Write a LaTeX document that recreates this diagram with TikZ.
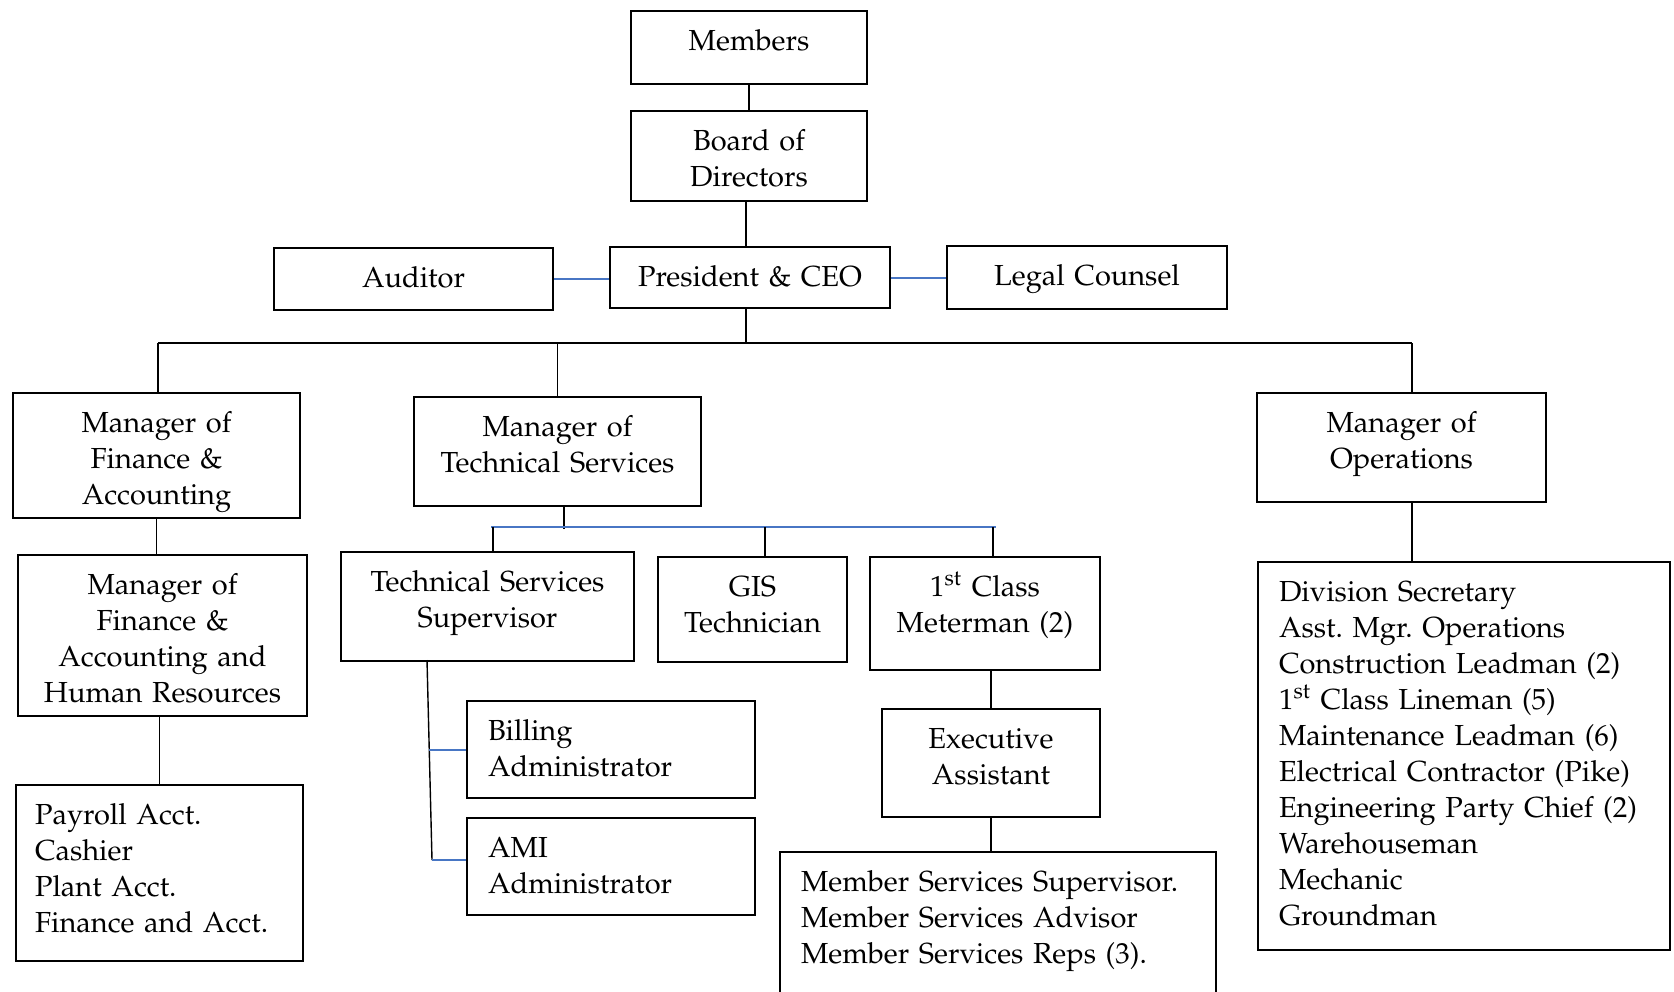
\documentclass[tikz,border=0pt]{standalone}
\usepackage[T1]{fontenc}
\usepackage{mathpazo}
\usepackage{xcolor}
\usetikzlibrary{calc}

\definecolor{linkblue}{RGB}{72,118,196}
\newcommand{\orgfont}{\fontsize{14.5}{18}\selectfont\frenchspacing}
\tikzset{
	box/.style={draw, line width=1pt, anchor=north, inner sep=0pt, align=center, text height=19.5pt, font=\orgfont},
	listbox/.style={box, align=left, inner xsep=10.5pt},
	link/.style={line width=0.7pt},
	bluelink/.style={linkblue, line width=1pt},
	bus/.style={line width=1.2pt},
}

\begin{document}
\begin{tikzpicture}[x=0.5pt,y=-0.5pt]
	\useasboundingbox (0,0) rectangle (1674,991);

	% top of the chart
	\node[box, text width=118pt, text depth=17pt] (mem) at (749,10) {Members};
	\node[box, text width=118pt, text depth=25.5pt] (bod) at (749,110) {Board of\\Directors};
	\node[box, text width=140pt, text depth=11pt] (ceo) at (750,246) {President \& CEO};
	\node[box, text width=139.5pt, text depth=11.5pt] (aud) at (413.5,247) {Auditor};
	\node[box, text width=140pt, text depth=12pt] (leg) at (1087,245) {Legal Counsel};
	\coordinate (spine) at (746,343);
	\draw[link] (mem.south) -- (bod.north);
	\draw[link] (spine |- bod.south) -- (spine |- ceo.north);
	\draw[bluelink] (aud.east) -- (aud.east -| ceo.west);
	\draw[bluelink] (ceo.east) -- (ceo.east -| leg.west);

	% managers
	\node[box, text width=143.5pt, text depth=43pt] (fin) at (156.5,392) {Manager of\\Finance \&\\Accounting};
	\node[box, text width=143.5pt, text depth=35pt] (tech) at (557.5,396) {Manager of\\Technical Services};
	\node[box, text width=144.5pt, text depth=35pt] (ops) at (1401.5,392) {Manager of\\Operations};
	\coordinate (busL) at (158,343);
	\coordinate (busR) at (1412,343);
	\draw[bus] (busL) -- (busR);
	\draw[link] (spine |- ceo.south) -- (spine);
	\draw[link] (busL) -- (busL |- fin.north);
	\draw[link] (tech.north |- busL) -- (tech.north);
	\draw[link] (busR) -- (busR |- ops.north);

	% finance column
	\node[box, text width=144.5pt, text depth=61pt] (finhr) at (162.5,554) {Manager of\\Finance \&\\Accounting and\\Human Resources};
	\node[listbox, inner xsep=9.5pt, text width=124.5pt, text depth=68.5pt] (pay) at (159.5,784) {Payroll Acct.\\Cashier\\Plant Acct.\\Finance and Acct.};
	\draw[link] (fin.south) -- (fin.south |- finhr.north);
	\draw[link] (pay.north |- finhr.south) -- (pay.north);

	% technical services
	\node[box, text width=146.5pt, text depth=35pt] (tss) at (487.5,551) {Technical Services\\Supervisor};
	\node[box, text width=94.5pt, text depth=33pt] (gis) at (752.5,556) {GIS\\Technician};
	\node[box, text width=115pt, text depth=37pt] (mtr) at (985,556) {1\textsuperscript{st} Class\\Meterman (2)};
	\coordinate (tbL) at (491,527);
	\coordinate (tbR) at (996,527);
	\coordinate (tbM) at (564,529);
	\coordinate (tb1) at (493,527);
	\coordinate (tb2) at (765,527);
	\coordinate (tb3) at (993,527);
	\draw[link] (tbM |- tech.south) -- (tbM);
	\draw[bluelink] (tbL) -- (tbR);
	\draw[link] (tb1) -- (tb1 |- tss.north);
	\draw[link] (tb2) -- (tb2 |- gis.north);
	\draw[link] (tb3) -- (tb3 |- mtr.north);

	% under the supervisor
	\node[listbox, text width=123pt, text depth=29pt] (bil) at (611,700) {Billing\\Administrator};
	\node[listbox, text width=123pt, text depth=29pt] (ami) at (611,817) {AMI\\Administrator};
	\coordinate (tvT) at (427,660);
	\coordinate (tvB) at (432,860);
	\coordinate (tvM) at ($(tvT)!0.45!(tvB)$);
	\draw[link] (tvT) -- (tvB);
	\draw[bluelink] (tvM) -- (tvM -| bil.west);
	\draw[bluelink] (tvB) -- (tvB -| ami.west);

	% meterman chain
	\node[box, text width=109pt, text depth=34.5pt] (exe) at (991,708) {Executive\\Assistant};
	\node[listbox, text width=197pt, text depth=53pt] (msv) at (998,851) {Member Services Supervisor.\\Member Services Advisor\\Member Services Reps (3).};
	\draw[link] (exe.north |- mtr.south) -- (exe.north);
	\draw[link] (exe.south) -- (exe.south |- msv.north);

	% operations staff
	\node[listbox, text width=185pt, text depth=174.5pt] (opl) at (1464,561) {Division Secretary\\Asst. Mgr. Operations\\Construction Leadman (2)\\1\textsuperscript{st} Class Lineman (5)\\Maintenance Leadman (6)\\Electrical Contractor (Pike)\\Engineering Party Chief (2)\\Warehouseman\\Mechanic\\Groundman};
	\draw[link] (busR |- ops.south) -- (busR |- opl.north);
\end{tikzpicture}
\end{document}
